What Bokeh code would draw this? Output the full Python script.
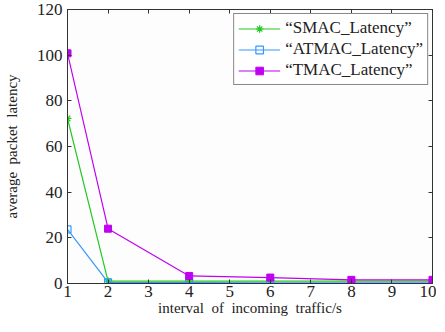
from bokeh.plotting import figure
from bokeh.models import LinearAxis, Legend, LegendItem, FixedTicker, Range1d
from bokeh.embed import file_html
from bokeh.resources import INLINE

x_vals = [1, 2, 4, 6, 8, 10]
smac = [72.3, 1.0, 1.0, 1.0, 1.0, 1.0]
atmac = [23.7, 0.5, 0.4, 0.3, 0.3, 0.3]
tmac = [100.8, 24.0, 3.3, 2.6, 1.6, 1.6]
x_ticks = [1, 2, 3, 4, 5, 6, 7, 8, 9, 10]
y_ticks = [0, 20, 40, 60, 80, 100, 120]

FONT = "Liberation Serif"

p = figure(frame_width=365, frame_height=274, output_backend="svg", toolbar_location=None,
           x_range=Range1d(1, 10), y_range=Range1d(0, 120),
           min_border_left=60, min_border_right=4, min_border_top=7, min_border_bottom=0)
p.xaxis.visible = False
p.yaxis.visible = False
p.grid.visible = False
p.outline_line_color = "#333333"
p.background_fill_color = "#fdfdfd"

def style(ax, labels=True):
    ax.major_tick_in = 4
    ax.major_tick_out = 0
    ax.minor_tick_line_color = None
    ax.axis_line_color = "#333333"
    ax.major_tick_line_color = "#333333"
    ax.major_label_text_font = FONT
    ax.major_label_text_color = "#222222"
    ax.axis_label_text_font = FONT
    ax.axis_label_text_font_style = "normal"
    ax.axis_label_text_color = "#222222"
    if not labels:
        ax.major_label_overrides = {t: "" for t in ax.ticker.ticks}
        ax.major_label_standoff = 0

xb = LinearAxis(ticker=FixedTicker(ticks=x_ticks), axis_label="interval\u00a0 of\u00a0 incoming\u00a0 traffic/s")
style(xb)
xb.major_label_text_font_size = "17px"
xb.axis_label_text_font_size = "15px"
xb.major_label_standoff = 2
xb.axis_label_standoff = 0
p.add_layout(xb, "below")

yl = LinearAxis(ticker=FixedTicker(ticks=y_ticks), axis_label="average\u00a0 packet\u00a0 latency")
style(yl)
yl.major_label_text_font_size = "17px"
yl.axis_label_text_font_size = "15px"
yl.major_label_standoff = 5
yl.axis_label_standoff = 14
p.add_layout(yl, "left")

xt = LinearAxis(ticker=FixedTicker(ticks=x_ticks))
style(xt, labels=False)
xt.major_label_overrides = {t: "\u00a0" for t in x_ticks}
xt.major_label_text_font_size = "6px"
xt.major_label_standoff = 0
p.add_layout(xt, "above")
yr = LinearAxis(ticker=FixedTicker(ticks=y_ticks))
style(yr, labels=False)
p.add_layout(yr, "right")

c_s, c_a, c_t = "#22c922", "#3399ff", "#c000f0"

l1 = p.line(x_vals, smac, line_color=c_s, line_width=1.2)
m1 = p.scatter(x_vals, smac, marker="asterisk", size=8, line_color=c_s, line_width=1.2)
l2 = p.line(x_vals, atmac, line_color=c_a, line_width=1.2)
m2 = p.scatter(x_vals, atmac, marker="square", size=7, line_color=c_a, fill_color=None, line_width=1.2)
l3 = p.line(x_vals, tmac, line_color=c_t, line_width=1.2)
m3 = p.scatter(x_vals, tmac, marker="square", size=7, line_color=c_t, fill_color=c_t)

legend = Legend(items=[
    LegendItem(label="\u201cSMAC_Latency\u201d", renderers=[l1, m1]),
    LegendItem(label="\u201cATMAC_Latency\u201d", renderers=[l2, m2]),
    LegendItem(label="\u201cTMAC_Latency\u201d", renderers=[l3, m3]),
], location="top_right")
legend.label_text_font = FONT
legend.label_text_font_size = "17px"
legend.label_text_color = "#222222"
legend.border_line_color = "#111111"
legend.background_fill_color = "white"
legend.glyph_width = 42
legend.label_height = 19
legend.glyph_height = 19
legend.spacing = 1
legend.padding = 4
legend.margin = 4
p.add_layout(legend)

open("out.html", "w").write(file_html(p, INLINE))
